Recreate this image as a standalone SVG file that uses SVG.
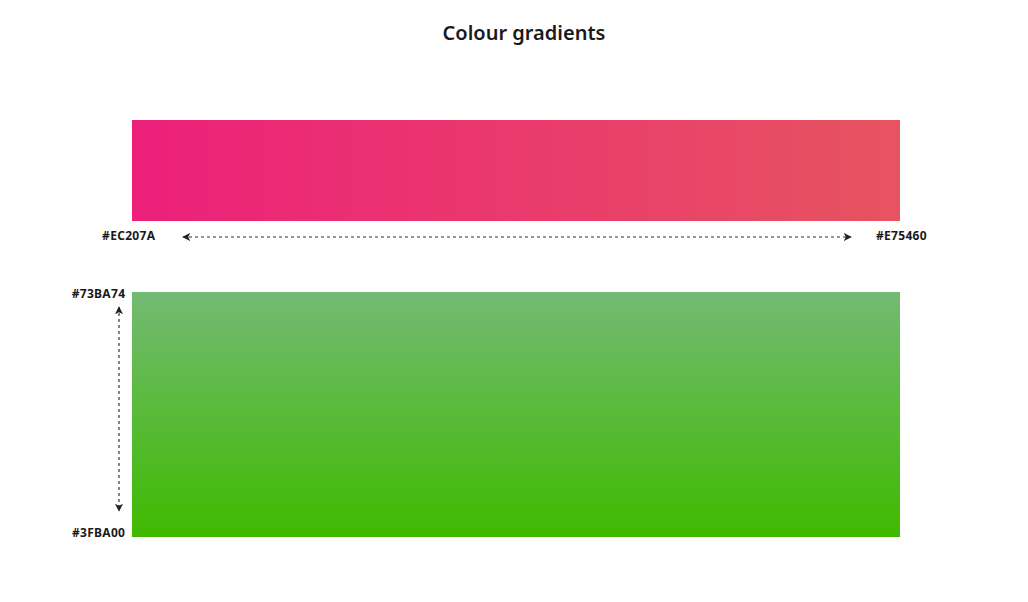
<svg xmlns="http://www.w3.org/2000/svg" width="1028" height="602" viewBox="0 0 1028 602">
<style>
.t{font-family:"Noto Sans","Open Sans",sans-serif;font-weight:bold;fill:#1a1a1a}
.lbl{font-size:12px;letter-spacing:0.3px}
.ttl{font-size:20px;font-weight:600}
.c{stroke:#333;stroke-width:1.2;stroke-dasharray:3,3;fill:none}
</style>
<defs>
<linearGradient id="g1" x1="0" y1="0" x2="1" y2="0"><stop offset="0" stop-color="#EC207A"/><stop offset="1" stop-color="#E75460"/></linearGradient>
<linearGradient id="g2" x1="0" y1="0" x2="0" y2="1"><stop offset="0" stop-color="#73BA74"/><stop offset="1" stop-color="#3FBA00"/></linearGradient>
<marker id="ah" viewBox="0 0 10 10" refX="9" refY="5" markerWidth="8" markerHeight="8" orient="auto-start-reverse" markerUnits="userSpaceOnUse"><path d="M0,0 L10,5 L0,10 L2.5,5 z" fill="#222"/></marker>
</defs>
<rect width="1028" height="602" fill="#fff"/>
<text class="t ttl" x="524" y="40" text-anchor="middle">Colour gradients</text>
<g id="grad1">
<rect x="132" y="120" width="768" height="101" fill="url(#g1)"/>
<text class="t lbl" x="155.3" y="240" text-anchor="end">#EC207A</text>
<text class="t lbl" x="876" y="240">#E75460</text>
</g>
<g id="grad2">
<rect x="132" y="292" width="768" height="245" fill="url(#g2)"/>
<text class="t lbl" x="125.3" y="298" text-anchor="end">#73BA74</text>
<text class="t lbl" x="125.3" y="537" text-anchor="end">#3FBA00</text>
</g>
<g id="connectors">
<line class="c" x1="183" y1="237" x2="851" y2="237" marker-start="url(#ah)" marker-end="url(#ah)"/>
<line class="c" x1="119" y1="307" x2="119" y2="511" marker-start="url(#ah)" marker-end="url(#ah)"/>
</g>
</svg>
